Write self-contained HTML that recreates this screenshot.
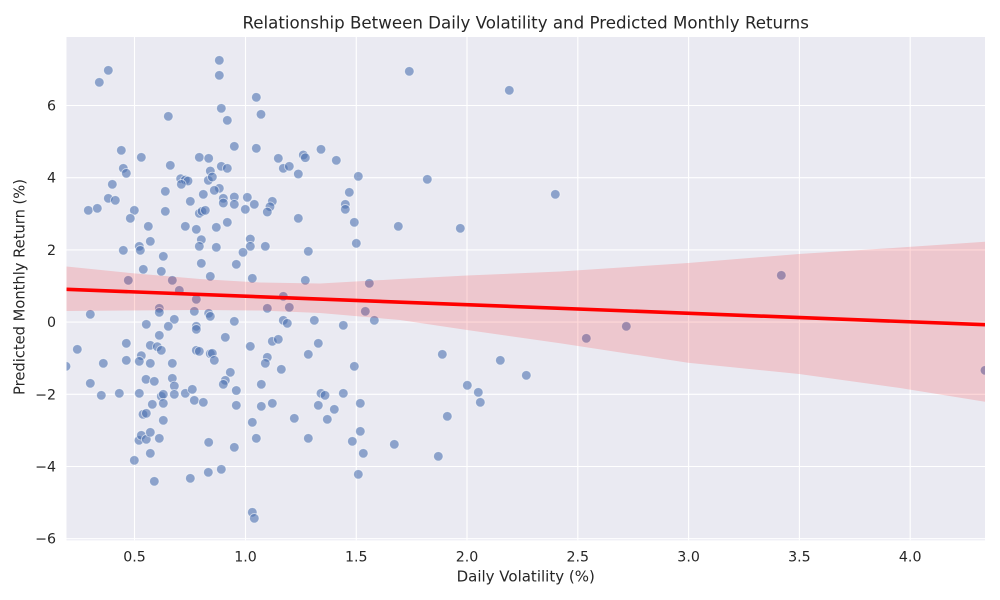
<!DOCTYPE html>
<html>
<head>
<meta charset="utf-8">
<style>
html,body{margin:0;padding:0;background:#fff}
svg{display:block}
text{font-family:"DejaVu Sans","Liberation Sans",sans-serif;fill:#262626}
</style>
</head>
<body>
<svg width="1000" height="600" viewBox="0 0 1000 600" xmlns="http://www.w3.org/2000/svg">
<defs><clipPath id="pc"><rect x="66.5" y="37" width="918.5" height="503.3"/></clipPath></defs>
<rect x="0" y="0" width="1000" height="600" fill="#fff"/>
<rect x="66.5" y="37" width="918.5" height="503.3" fill="#eaeaf2"/>
<g stroke="#fff" stroke-width="1.1">
<line x1="134.5" y1="37" x2="134.5" y2="540.3"/><line x1="245.5" y1="37" x2="245.5" y2="540.3"/><line x1="356.3" y1="37" x2="356.3" y2="540.3"/><line x1="467" y1="37" x2="467" y2="540.3"/><line x1="577.8" y1="37" x2="577.8" y2="540.3"/><line x1="688.6" y1="37" x2="688.6" y2="540.3"/><line x1="799.4" y1="37" x2="799.4" y2="540.3"/><line x1="910.2" y1="37" x2="910.2" y2="540.3"/>
<line x1="66.5" y1="105.5" x2="985" y2="105.5"/><line x1="66.5" y1="177.7" x2="985" y2="177.7"/><line x1="66.5" y1="249.9" x2="985" y2="249.9"/><line x1="66.5" y1="322.1" x2="985" y2="322.1"/><line x1="66.5" y1="394.3" x2="985" y2="394.3"/><line x1="66.5" y1="466.5" x2="985" y2="466.5"/><line x1="66.5" y1="538.7" x2="985" y2="538.7"/>
</g>
<g clip-path="url(#pc)">
<g fill="#4c72b0" fill-opacity="0.6" stroke="#fff" stroke-opacity="0.6" stroke-width="0.9">
<circle cx="108.3" cy="70.3" r="4.8"/><circle cx="99.3" cy="82.3" r="4.8"/><circle cx="219.3" cy="60.3" r="4.8"/><circle cx="219.3" cy="75.3" r="4.8"/><circle cx="256.3" cy="97.3" r="4.8"/><circle cx="221.3" cy="108.3" r="4.8"/><circle cx="261" cy="114.3" r="4.8"/><circle cx="168.3" cy="116.3" r="4.8"/><circle cx="227.3" cy="120.3" r="4.8"/><circle cx="234.3" cy="146.3" r="4.8"/>
<circle cx="256.3" cy="148.3" r="4.8"/><circle cx="121.3" cy="150.3" r="4.8"/><circle cx="141.3" cy="157.3" r="4.8"/><circle cx="199.3" cy="157.3" r="4.8"/><circle cx="208.7" cy="158.3" r="4.8"/><circle cx="278.3" cy="158.3" r="4.8"/><circle cx="303.3" cy="155" r="4.8"/><circle cx="305.3" cy="157.7" r="4.8"/><circle cx="170.3" cy="165.3" r="4.8"/><circle cx="123.3" cy="168.3" r="4.8"/>
<circle cx="126.3" cy="173.3" r="4.8"/><circle cx="221.3" cy="166.3" r="4.8"/><circle cx="227.3" cy="168.3" r="4.8"/><circle cx="283.3" cy="168.3" r="4.8"/><circle cx="289.3" cy="166.3" r="4.8"/><circle cx="210.3" cy="171" r="4.8"/><circle cx="298.3" cy="174" r="4.8"/><circle cx="180.7" cy="178.7" r="4.8"/><circle cx="185.3" cy="180" r="4.8"/><circle cx="188" cy="181" r="4.8"/>
<circle cx="181.3" cy="184.3" r="4.8"/><circle cx="208.3" cy="180.3" r="4.8"/><circle cx="212.3" cy="177" r="4.8"/><circle cx="112.3" cy="184.3" r="4.8"/><circle cx="219.3" cy="188.3" r="4.8"/><circle cx="214.3" cy="190.3" r="4.8"/><circle cx="165.3" cy="191.3" r="4.8"/><circle cx="203.3" cy="194.3" r="4.8"/><circle cx="108.3" cy="198.3" r="4.8"/><circle cx="115.3" cy="200.3" r="4.8"/>
<circle cx="223.3" cy="198.3" r="4.8"/><circle cx="223.3" cy="203" r="4.8"/><circle cx="234.3" cy="197" r="4.8"/><circle cx="234.3" cy="204.3" r="4.8"/><circle cx="247.3" cy="197.3" r="4.8"/><circle cx="254.3" cy="204.3" r="4.8"/><circle cx="272.3" cy="201.3" r="4.8"/><circle cx="270" cy="206.7" r="4.8"/><circle cx="267.3" cy="212" r="4.8"/><circle cx="190.3" cy="201.3" r="4.8"/>
<circle cx="245.3" cy="209.3" r="4.8"/><circle cx="88.3" cy="210.3" r="4.8"/><circle cx="97.3" cy="208.3" r="4.8"/><circle cx="134.3" cy="210.3" r="4.8"/><circle cx="130.3" cy="218.3" r="4.8"/><circle cx="165.3" cy="211.3" r="4.8"/><circle cx="199.3" cy="213.3" r="4.8"/><circle cx="202" cy="211.3" r="4.8"/><circle cx="205.3" cy="210.3" r="4.8"/><circle cx="298.3" cy="218.3" r="4.8"/>
<circle cx="148.3" cy="226.3" r="4.8"/><circle cx="185.3" cy="226.3" r="4.8"/><circle cx="196.3" cy="229.3" r="4.8"/><circle cx="216.3" cy="227.3" r="4.8"/><circle cx="227.3" cy="222.3" r="4.8"/><circle cx="201.3" cy="239.7" r="4.8"/><circle cx="199.3" cy="246.3" r="4.8"/><circle cx="250.3" cy="239" r="4.8"/><circle cx="250.3" cy="246.3" r="4.8"/><circle cx="265.3" cy="246.3" r="4.8"/>
<circle cx="139.3" cy="246.3" r="4.8"/><circle cx="140.3" cy="250.3" r="4.8"/><circle cx="150.3" cy="241.3" r="4.8"/><circle cx="123.3" cy="250.3" r="4.8"/><circle cx="216.3" cy="247.3" r="4.8"/><circle cx="243" cy="252.3" r="4.8"/><circle cx="308.3" cy="251.3" r="4.8"/><circle cx="163.3" cy="256.3" r="4.8"/><circle cx="201.3" cy="263.3" r="4.8"/><circle cx="236.3" cy="264.3" r="4.8"/>
<circle cx="143.3" cy="269.3" r="4.8"/><circle cx="161.3" cy="271.3" r="4.8"/><circle cx="210.3" cy="276.3" r="4.8"/><circle cx="252.3" cy="278.3" r="4.8"/><circle cx="305.3" cy="280.3" r="4.8"/><circle cx="128.3" cy="280.3" r="4.8"/><circle cx="172.3" cy="280.3" r="4.8"/><circle cx="179.3" cy="290.3" r="4.8"/><circle cx="196.3" cy="299.3" r="4.8"/><circle cx="283.3" cy="296.3" r="4.8"/>
<circle cx="90.3" cy="314.3" r="4.8"/><circle cx="159.3" cy="308.3" r="4.8"/><circle cx="159.3" cy="312.3" r="4.8"/><circle cx="194.3" cy="311.3" r="4.8"/><circle cx="208.7" cy="313.3" r="4.8"/><circle cx="210.3" cy="316.3" r="4.8"/><circle cx="267.3" cy="308.3" r="4.8"/><circle cx="289.3" cy="307.3" r="4.8"/><circle cx="174.3" cy="319.3" r="4.8"/><circle cx="234.3" cy="321.3" r="4.8"/>
<circle cx="283.3" cy="320.3" r="4.8"/><circle cx="287.3" cy="323.3" r="4.8"/><circle cx="146.3" cy="324.3" r="4.8"/><circle cx="168.3" cy="326.3" r="4.8"/><circle cx="196.3" cy="326.3" r="4.8"/><circle cx="196.3" cy="329.3" r="4.8"/><circle cx="159.3" cy="335.3" r="4.8"/><circle cx="225.3" cy="337.3" r="4.8"/><circle cx="77.3" cy="349.3" r="4.8"/><circle cx="126.3" cy="343.3" r="4.8"/>
<circle cx="150.3" cy="345.3" r="4.8"/><circle cx="157.3" cy="346.7" r="4.8"/><circle cx="161.3" cy="350.3" r="4.8"/><circle cx="196.3" cy="350.3" r="4.8"/><circle cx="199.3" cy="351.3" r="4.8"/><circle cx="210.3" cy="353.7" r="4.8"/><circle cx="212.3" cy="353.3" r="4.8"/><circle cx="214.3" cy="360.3" r="4.8"/><circle cx="250.3" cy="346.3" r="4.8"/><circle cx="272.3" cy="341.3" r="4.8"/>
<circle cx="278.3" cy="339.3" r="4.8"/><circle cx="267.3" cy="357.3" r="4.8"/><circle cx="265.3" cy="363.3" r="4.8"/><circle cx="308.3" cy="354.3" r="4.8"/><circle cx="66" cy="366.3" r="4.8"/><circle cx="103.3" cy="363.3" r="4.8"/><circle cx="126.3" cy="360.3" r="4.8"/><circle cx="141.3" cy="355.7" r="4.8"/><circle cx="139.3" cy="361.3" r="4.8"/><circle cx="150.3" cy="363.3" r="4.8"/>
<circle cx="172.3" cy="363.3" r="4.8"/><circle cx="281.3" cy="369.3" r="4.8"/><circle cx="230.3" cy="372.3" r="4.8"/><circle cx="90.3" cy="383.3" r="4.8"/><circle cx="146" cy="379.3" r="4.8"/><circle cx="154.3" cy="381.3" r="4.8"/><circle cx="172.3" cy="378.3" r="4.8"/><circle cx="174.3" cy="386" r="4.8"/><circle cx="225.3" cy="380.3" r="4.8"/><circle cx="223.3" cy="384.3" r="4.8"/>
<circle cx="261.3" cy="384.3" r="4.8"/><circle cx="236.3" cy="390.5" r="4.8"/><circle cx="101.3" cy="395.3" r="4.8"/><circle cx="119.3" cy="393.3" r="4.8"/><circle cx="139.3" cy="393.3" r="4.8"/><circle cx="161.3" cy="396.3" r="4.8"/><circle cx="163.3" cy="394.3" r="4.8"/><circle cx="174.3" cy="394.3" r="4.8"/><circle cx="185.3" cy="393.3" r="4.8"/><circle cx="192.3" cy="389.3" r="4.8"/>
<circle cx="152.3" cy="404.3" r="4.8"/><circle cx="163.3" cy="403.3" r="4.8"/><circle cx="194.3" cy="400.3" r="4.8"/><circle cx="203.3" cy="402.3" r="4.8"/><circle cx="236.3" cy="405.3" r="4.8"/><circle cx="261.3" cy="406.3" r="4.8"/><circle cx="272.3" cy="403.3" r="4.8"/><circle cx="143" cy="414.3" r="4.8"/><circle cx="146.3" cy="413.3" r="4.8"/><circle cx="163.3" cy="420.3" r="4.8"/>
<circle cx="252.3" cy="422.3" r="4.8"/><circle cx="294.3" cy="418.3" r="4.8"/><circle cx="139" cy="440.3" r="4.8"/><circle cx="141.3" cy="435.3" r="4.8"/><circle cx="146.3" cy="439.3" r="4.8"/><circle cx="150.3" cy="432.3" r="4.8"/><circle cx="159.3" cy="438.3" r="4.8"/><circle cx="256.3" cy="438.3" r="4.8"/><circle cx="308.3" cy="438.3" r="4.8"/><circle cx="208.7" cy="442.3" r="4.8"/>
<circle cx="234.3" cy="447.3" r="4.8"/><circle cx="150.3" cy="453.3" r="4.8"/><circle cx="134.3" cy="460.3" r="4.8"/><circle cx="208.3" cy="472.3" r="4.8"/><circle cx="221.3" cy="469.3" r="4.8"/><circle cx="190.3" cy="478.3" r="4.8"/><circle cx="154.3" cy="481.3" r="4.8"/><circle cx="252.3" cy="512.3" r="4.8"/><circle cx="254.3" cy="518.3" r="4.8"/><circle cx="409.3" cy="71.3" r="4.8"/>
<circle cx="509.3" cy="90.3" r="4.8"/><circle cx="321" cy="149.3" r="4.8"/><circle cx="336.3" cy="160.3" r="4.8"/><circle cx="358.3" cy="176.3" r="4.8"/><circle cx="427.3" cy="179.3" r="4.8"/><circle cx="349.3" cy="192.3" r="4.8"/><circle cx="345.3" cy="204.3" r="4.8"/><circle cx="345.3" cy="209.3" r="4.8"/><circle cx="555.3" cy="194.3" r="4.8"/><circle cx="354.3" cy="222.3" r="4.8"/>
<circle cx="398.3" cy="226.3" r="4.8"/><circle cx="460.3" cy="228.3" r="4.8"/><circle cx="356.3" cy="243.3" r="4.8"/><circle cx="369.3" cy="283.3" r="4.8"/><circle cx="365.3" cy="311.3" r="4.8"/><circle cx="374.3" cy="320.3" r="4.8"/><circle cx="314.3" cy="320.3" r="4.8"/><circle cx="343.3" cy="325.3" r="4.8"/><circle cx="318.3" cy="343.3" r="4.8"/><circle cx="442.3" cy="354.3" r="4.8"/>
<circle cx="500.3" cy="360.3" r="4.8"/><circle cx="354.3" cy="366.3" r="4.8"/><circle cx="526.3" cy="375.3" r="4.8"/><circle cx="467.3" cy="385.3" r="4.8"/><circle cx="478.3" cy="392.3" r="4.8"/><circle cx="480.3" cy="402.3" r="4.8"/><circle cx="321" cy="393.3" r="4.8"/><circle cx="325" cy="395.3" r="4.8"/><circle cx="343.3" cy="393.3" r="4.8"/><circle cx="318.3" cy="405.3" r="4.8"/>
<circle cx="334.3" cy="409.3" r="4.8"/><circle cx="360.3" cy="403.3" r="4.8"/><circle cx="327.3" cy="419.3" r="4.8"/><circle cx="447.3" cy="416.3" r="4.8"/><circle cx="360.3" cy="431.3" r="4.8"/><circle cx="352.3" cy="441.3" r="4.8"/><circle cx="363.3" cy="453.3" r="4.8"/><circle cx="394.3" cy="444.3" r="4.8"/><circle cx="438.3" cy="456.3" r="4.8"/><circle cx="358.3" cy="474.3" r="4.8"/>
<circle cx="586.3" cy="338.3" r="4.8"/><circle cx="626.3" cy="326.3" r="4.8"/><circle cx="781.3" cy="275.3" r="4.8"/><circle cx="985" cy="370.3" r="4.8"/>
</g>
<polygon fill="#ff0000" fill-opacity="0.15" points="66.5,266.5 130,273 200,279 260,282.5 320,283.5 400,279 467,275.5 560,271.5 688,263 799,254 900,247.5 985,241.7 985,401.7 900,388 799,374 688,362.7 560,343.3 467,330 400,320 320,313 260,310.5 200,310 130,310.5 66.5,311"/>
<line x1="66.5" y1="289.3" x2="985" y2="324.7" stroke="#ff0000" stroke-width="3.6"/>
</g>
<g font-size="14.2" text-anchor="middle">
<text x="134.5" y="561.5">0.5</text><text x="245.5" y="561.5">1.0</text><text x="356.3" y="561.5">1.5</text><text x="467" y="561.5">2.0</text><text x="577.8" y="561.5">2.5</text><text x="688.6" y="561.5">3.0</text><text x="799.4" y="561.5">3.5</text><text x="910.2" y="561.5">4.0</text>
</g>
<g font-size="14.2" text-anchor="end">
<text x="56" y="110.5">6</text><text x="56" y="182.7">4</text><text x="56" y="254.9">2</text><text x="56" y="327.1">0</text><text x="56" y="399.3">−2</text><text x="56" y="471.5">−4</text><text x="56" y="543.7">−6</text>
</g>
<text x="525.7" y="581.7" font-size="15" text-anchor="middle">Daily Volatility (%)</text>
<text transform="translate(24.5,287) rotate(-90)" font-size="14.7" text-anchor="middle">Predicted Monthly Return (%)</text>
<text x="525.7" y="28.7" font-size="16.67" text-anchor="middle">Relationship Between Daily Volatility and Predicted Monthly Returns</text>
</svg>
</body>
</html>
